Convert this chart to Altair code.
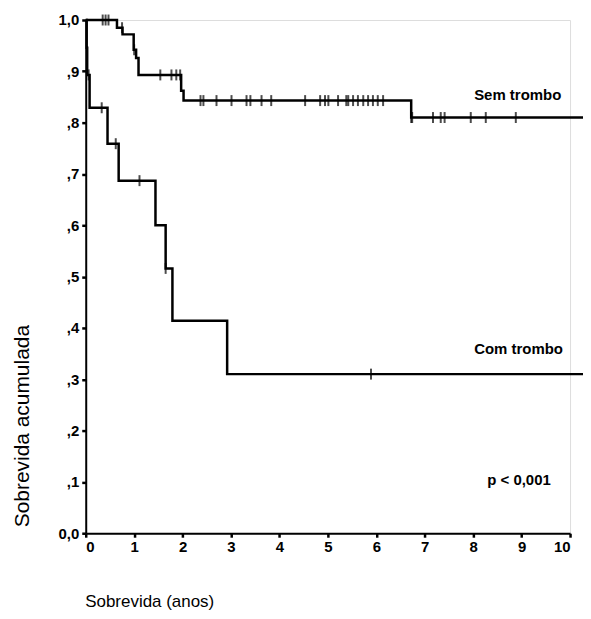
import altair as alt
import pandas as pd

# ---- data ----
sem_times = [0, 0.645, 0.76, 0.99, 1.04, 1.09, 1.97, 2.02, 6.72]
sem_surv = [1.0, 0.985, 0.972, 0.942, 0.926, 0.893, 0.862, 0.843, 0.810]
sem_censor = [0.35, 0.41, 0.47, 0.75, 1.0, 1.54, 1.77, 1.87, 1.95, 2.37, 2.43,
              2.70, 3.01, 3.32, 3.40, 3.63, 3.83, 4.53, 4.84, 4.94, 5.01, 5.21,
              5.38, 5.42, 5.52, 5.62, 5.73, 5.83, 5.93, 6.03, 6.14, 6.72, 6.74,
              7.17, 7.33, 7.41, 7.95, 8.26, 8.88]

com_times = [0, 0.02, 0.03, 0.08, 0.45, 0.68, 1.44, 1.65, 1.79, 2.92]
com_surv = [1.0, 0.946, 0.893, 0.829, 0.759, 0.687, 0.600, 0.516, 0.414, 0.310]
com_censor = [0.06, 0.33, 0.62, 1.11, 1.65, 5.89]

end_time = 10.4

x_ticks = [0, 1, 2, 3, 4, 5, 6, 7, 8, 9, 10]
y_ticks = [0.0, 0.1, 0.2, 0.3, 0.4, 0.5, 0.6, 0.7, 0.8, 0.9, 1.0]
y_tick_labels = ["0,0", ",1", ",2", ",3", ",4", ",5", ",6", ",7", ",8", ",9", "1,0"]

label_text = ["Sem trombo", "Com trombo", "p < 0,001"]
label_x = [8.02, 8.02, 8.29]
label_y = [0.854, 0.359, 0.103]


def surv_at(times, surv, t):
    s = surv[0]
    for ti, si in zip(times, surv):
        if ti <= t:
            s = si
    return s


rows = []
for g, ts, ss in [("Sem trombo", sem_times, sem_surv), ("Com trombo", com_times, com_surv)]:
    for t, s in zip(ts, ss):
        rows.append({"grupo": g, "t": t, "s": s})
    rows.append({"grupo": g, "t": end_time, "s": ss[-1]})
curve_df = pd.DataFrame(rows)

crow = []
for g, ts, ss, cs in [("Sem trombo", sem_times, sem_surv, sem_censor),
                      ("Com trombo", com_times, com_surv, com_censor)]:
    for c in cs:
        crow.append({"grupo": g, "t": c, "s": surv_at(ts, ss, c)})
censor_df = pd.DataFrame(crow)

text_df = pd.DataFrame({"label": label_text, "x": label_x, "y": label_y})

FONT = "Liberation Sans"
label_expr = "[" + ",".join("'" + l + "'" for l in y_tick_labels) + "][round(datum.value*10)]"

xscale = alt.Scale(domain=[0, 10], nice=False, zero=False)
yscale = alt.Scale(domain=[0, 1], nice=False)

xaxis = alt.Axis(values=x_ticks, title="Sobrevida (anos)", grid=False,
                 domainColor="black", domainWidth=2, tickColor="black", tickWidth=2.5,
                 tickSize=4, labelFont=FONT, labelFontSize=15, labelFontWeight="bold",
                 labelColor="black", labelPadding=2, format="d",
                 titleFont=FONT, titleFontSize=17, titleFontWeight="normal",
                 titleColor="black", titleX=-1, titleY=74, titleAlign="left",
                 titleBaseline="alphabetic", titleAnchor="start")
yaxis = alt.Axis(values=y_ticks, title="Sobrevida acumulada", grid=False,
                 domainColor="black", domainWidth=2, tickColor="black", tickWidth=2.5,
                 tickSize=4, labelFont=FONT, labelFontSize=15, labelFontWeight="bold",
                 labelColor="black", labelPadding=3, labelExpr=label_expr,
                 titleFont=FONT, titleFontSize=21, titleFontWeight="normal",
                 titleColor="black", titleX=-57, titleY=407, titleAlign="center",
                 titleBaseline="alphabetic", titleAngle=270)

lines = alt.Chart(curve_df).mark_line(interpolate="step-after", color="black",
                                       strokeWidth=2.5).encode(
    x=alt.X("t:Q", scale=xscale, axis=xaxis),
    y=alt.Y("s:Q", scale=yscale, axis=yaxis),
    detail="grupo:N",
)

censors = alt.Chart(censor_df).mark_tick(orient="vertical", color="black",
                                         size=11, thickness=2).encode(
    x=alt.X("t:Q", scale=xscale),
    y=alt.Y("s:Q", scale=yscale),
)

texts = alt.Chart(text_df).mark_text(align="left", baseline="middle", font=FONT,
                                     fontSize=15, fontWeight="bold", color="black").encode(
    x=alt.X("x:Q", scale=xscale),
    y=alt.Y("y:Q", scale=yscale),
    text="label:N",
)

chart = alt.layer(lines, censors, texts).properties(
    width=486, height=515,
    autosize=alt.AutoSizeParams(type="none"),
    padding={"left": 78, "top": 11, "right": 13, "bottom": 77},
).configure_view(stroke=None).configure(background="white")

chart.save("out.html", embed_options={"renderer": "svg", "actions": False})
